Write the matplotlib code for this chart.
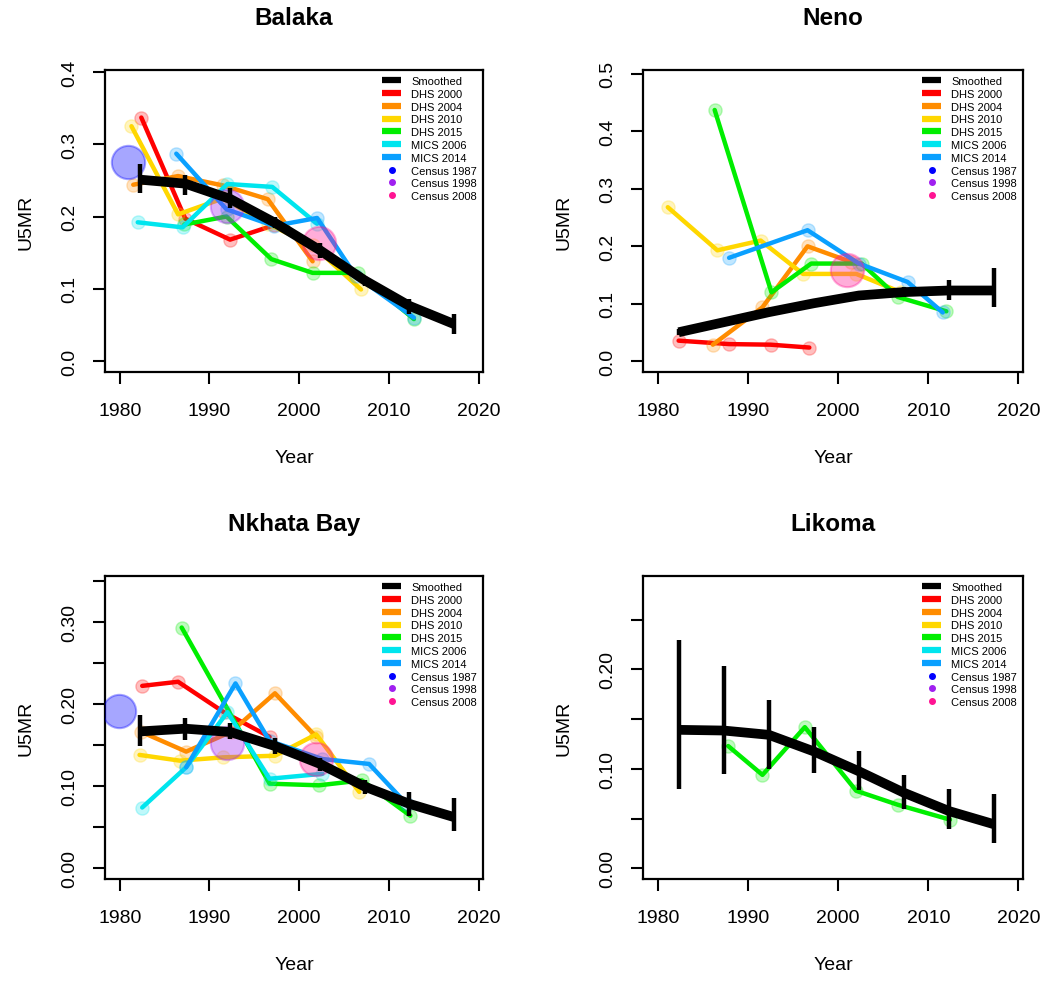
"""
U5MR by district: survey estimates and smoothed trend, 2x2 panels
"""
import matplotlib
matplotlib.use("Agg")
import matplotlib.pyplot as plt
from matplotlib.lines import Line2D

# ---- data ----
SMOOTH_YEARS = [1982.3, 1987.3, 1992.3, 1997.3, 2002.3, 2007.3, 2012.3, 2017.3]

BALAKA_SMOOTH = [0.251, 0.2455, 0.2244, 0.1913, 0.1535, 0.1117, 0.0763, 0.051]
BALAKA_LOW = [0.233, 0.230, 0.212, 0.184, 0.143, 0.104, 0.065, 0.037]
BALAKA_HIGH = [0.273, 0.258, 0.240, 0.199, 0.164, 0.117, 0.086, 0.065]
BALAKA_SURVEYS = {
    "DHS 2000": ([1982.4, 1987.3, 1992.3, 1997.2], [0.337, 0.197, 0.168, 0.188]),
    "DHS 2004": ([1981.5, 1986.5, 1991.5, 1996.5, 2001.5], [0.244, 0.256, 0.243, 0.224, 0.138]),
    "DHS 2010": ([1981.3, 1986.5, 1991.5, 1996.5, 2001.5, 2006.9], [0.325, 0.203, 0.225, 0.19, 0.16, 0.099]),
    "DHS 2015": ([1987.2, 1991.9, 1996.9, 2001.5, 2006.6, 2012.8], [0.189, 0.200, 0.141, 0.122, 0.122, 0.058]),
    "MICS 2006": ([1982.0, 1987.0, 1992.0, 1997.0, 2002.0], [0.192, 0.185, 0.245, 0.241, 0.19]),
    "MICS 2014": ([1986.3, 1991.9, 1997.2, 2002.0, 2006.3, 2012.8], [0.287, 0.210, 0.187, 0.198, 0.118, 0.060]),
}
BALAKA_CENSUS = {
    "Census 1987": (1980.9, 0.276),
    "Census 1998": (1991.9, 0.214),
    "Census 2008": (2002.2, 0.164),
}

NENO_SMOOTH = [0.0506, 0.068, 0.0855, 0.101, 0.1145, 0.1204, 0.1232, 0.1232]
NENO_LOW = [0.045, 0.065, 0.083, 0.098, 0.111, 0.112, 0.106, 0.094]
NENO_HIGH = [0.056, 0.071, 0.088, 0.104, 0.118, 0.129, 0.142, 0.162]
NENO_SURVEYS = {
    "DHS 2000": ([1982.3, 1987.9, 1992.5, 1996.8], [0.036, 0.030, 0.029, 0.024]),
    "DHS 2004": ([1986.1, 1991.6, 1996.6, 2001.4], [0.029, 0.094, 0.200, 0.173]),
    "DHS 2010": ([1981.1, 1986.6, 1991.4, 1996.1, 2002.0, 2007.0], [0.268, 0.193, 0.210, 0.152, 0.152, 0.120]),
    "DHS 2015": ([1986.3, 1992.6, 1997.0, 2002.6, 2006.6, 2012.0], [0.437, 0.120, 0.170, 0.170, 0.112, 0.087]),
    "MICS 2014": ([1987.9, 1996.6, 2002.3, 2007.7, 2011.6], [0.180, 0.228, 0.170, 0.138, 0.085]),
}
NENO_CENSUS = {
    "Census 2008": (2001.0, 0.158),
}

NKHATA_SMOOTH = [0.1666, 0.1699, 0.1659, 0.1488, 0.1272, 0.0995, 0.0784, 0.0622]
NKHATA_LOW = [0.149, 0.156, 0.157, 0.139, 0.119, 0.091, 0.064, 0.045]
NKHATA_HIGH = [0.186, 0.183, 0.177, 0.158, 0.134, 0.107, 0.093, 0.085]
NKHATA_SURVEYS = {
    "DHS 2000": ([1982.5, 1986.5, 1991.6, 1996.7], [0.222, 0.227, 0.190, 0.160]),
    "DHS 2004": ([1982.4, 1987.4, 1992.4, 1997.3, 2001.9], [0.166, 0.142, 0.166, 0.213, 0.160]),
    "DHS 2010": ([1982.2, 1986.7, 1991.5, 1997.3, 2001.9, 2006.7], [0.138, 0.131, 0.135, 0.137, 0.163, 0.093]),
    "DHS 2015": ([1986.9, 1996.7, 2002.2, 2007.0, 2012.4], [0.293, 0.103, 0.101, 0.107, 0.064]),
    "MICS 2006": ([1982.5, 1987.4, 1992.0, 1996.7, 2002.6], [0.074, 0.123, 0.190, 0.109, 0.115]),
    "MICS 2014": ([1987.4, 1992.9, 1996.7, 2002.6, 2007.8, 2012.0], [0.123, 0.225, 0.155, 0.133, 0.127, 0.078]),
}
NKHATA_CENSUS = {
    "Census 1987": (1979.9, 0.191),
    "Census 1998": (1991.9, 0.152),
    "Census 2008": (2001.9, 0.133),
}

LIKOMA_SMOOTH = [0.1393, 0.1386, 0.1343, 0.1176, 0.0976, 0.076, 0.0576, 0.0443]
LIKOMA_LOW = [0.080, 0.095, 0.100, 0.096, 0.079, 0.060, 0.040, 0.026]
LIKOMA_HIGH = [0.230, 0.203, 0.169, 0.142, 0.118, 0.094, 0.080, 0.075]
LIKOMA_SURVEYS = {
    "DHS 2015": ([1987.8, 1991.6, 1996.3, 2002.0, 2006.6, 2012.4], [0.123, 0.094, 0.142, 0.078, 0.064, 0.049]),
}
LIKOMA_CENSUS = {}

# ---- styles ----
SURVEY_COLORS = {
    "DHS 2000": "#ff0000",
    "DHS 2004": "#ff8c00",
    "DHS 2010": "#ffd700",
    "DHS 2015": "#00ee00",
    "MICS 2006": "#00e5ee",
    "MICS 2014": "#0aa0ff",
}
CENSUS_COLORS = {
    "Census 1987": "#0000ff",
    "Census 1998": "#a020f0",
    "Census 2008": "#ff1493",
}

plt.rcParams["font.family"] = ["Liberation Sans", "DejaVu Sans"]

W, H = 1050, 987


def px_axes(left, top, right, bottom):
    """ ピクセル指定から axes の位置を作る """
    return [left / W, 1 - bottom / H, (right - left) / W, (bottom - top) / H]


def draw_panel(ax, title, smooth, low, high, surveys, census, ylim, yticks, ylabels):
    for name, (yrs, vals) in surveys.items():
        c = SURVEY_COLORS[name]
        ax.plot(yrs, vals, color=c, lw=3.2, solid_capstyle="round", zorder=2)
        ax.plot(yrs, vals, "o", ms=9.5, color=c, alpha=0.25, mec=c, mew=1.0, zorder=2)
    for name, (yr, val) in census.items():
        c = CENSUS_COLORS[name]
        ax.plot(yr, val, "o", ms=24, color=c, alpha=0.35, mec=c, mew=1.5, zorder=3)
    ax.vlines(SMOOTH_YEARS, low, high, color="black", lw=3.2, zorder=4)
    ax.plot(SMOOTH_YEARS, smooth, color="black", lw=7, solid_capstyle="butt", zorder=4)

    ax.set_xlim(1978.35, 2020.5)
    ax.set_ylim(*ylim)
    ax.set_xticks([1980, 1990, 2000, 2010, 2020])
    ax.set_yticks(yticks)
    ax.set_yticklabels(ylabels, rotation=90, va="center")
    ax.tick_params(direction="out", length=8.5, width=1.5, labelsize=14)
    ax.tick_params(axis="x", pad=13)
    ax.tick_params(axis="y", pad=11)
    for s in ax.spines.values():
        s.set_linewidth(1.6)
    ax.set_title(title, fontsize=17.5, fontweight="bold", pad=33)
    ax.set_xlabel("Year", fontsize=14, labelpad=22)
    ax.set_ylabel("U5MR", fontsize=14, labelpad=19)

    handles = [Line2D([], [], color="black", lw=4.5, solid_capstyle="butt")]
    labels = ["Smoothed"]
    for name, c in SURVEY_COLORS.items():
        handles.append(Line2D([], [], color=c, lw=4.5, solid_capstyle="butt"))
        labels.append(name)
    for name, c in CENSUS_COLORS.items():
        handles.append(Line2D([], [], color=c, marker="o", ls="none", ms=4))
        labels.append(name)
    ax.legend(handles, labels, loc="upper right", frameon=False, fontsize=8,
              handlelength=1.7, handletextpad=0.9, labelspacing=0.25,
              borderaxespad=0.25, borderpad=0.3)


fig = plt.figure(figsize=(W / 100, H / 100), dpi=100)

ax1 = fig.add_axes(px_axes(105, 71, 483, 373))
draw_panel(ax1, "Balaka", BALAKA_SMOOTH, BALAKA_LOW, BALAKA_HIGH, BALAKA_SURVEYS,
           BALAKA_CENSUS, (-0.0152, 0.4028), [0, 0.1, 0.2, 0.3, 0.4],
           ["0.0", "0.1", "0.2", "0.3", "0.4"])

ax2 = fig.add_axes(px_axes(643, 71, 1023, 373))
draw_panel(ax2, "Neno", NENO_SMOOTH, NENO_LOW, NENO_HIGH, NENO_SURVEYS,
           NENO_CENSUS, (-0.0185, 0.5065), [0, 0.1, 0.2, 0.3, 0.4, 0.5],
           ["0.0", "0.1", "0.2", "0.3", "0.4", "0.5"])

ax3 = fig.add_axes(px_axes(105, 577, 483, 880))
draw_panel(ax3, "Nkhata Bay", NKHATA_SMOOTH, NKHATA_LOW, NKHATA_HIGH, NKHATA_SURVEYS,
           NKHATA_CENSUS, (-0.013, 0.3557),
           [0, 0.05, 0.1, 0.15, 0.2, 0.25, 0.3, 0.35],
           ["0.00", "", "0.10", "", "0.20", "", "0.30", ""])

ax4 = fig.add_axes(px_axes(643, 577, 1023, 880))
draw_panel(ax4, "Likoma", LIKOMA_SMOOTH, LIKOMA_LOW, LIKOMA_HIGH, LIKOMA_SURVEYS,
           LIKOMA_CENSUS, (-0.0107, 0.294),
           [0, 0.05, 0.1, 0.15, 0.2, 0.25],
           ["0.00", "", "0.10", "", "0.20", ""])

fig.savefig("out.png", dpi=100)
